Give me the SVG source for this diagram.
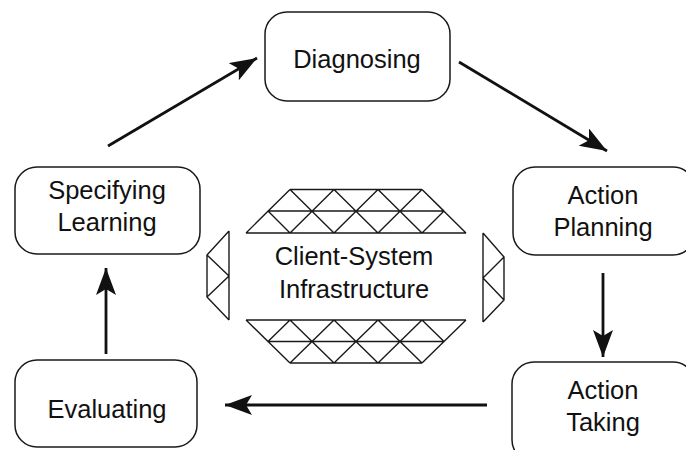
<svg xmlns="http://www.w3.org/2000/svg" width="686" height="450" viewBox="0 0 686 450">
  <style>
    .box { fill: #ffffff; stroke: #1a1a1a; stroke-width: 1.5; }
    .lbl { font-family: "Liberation Sans", Arial, sans-serif; font-size: 25.5px; fill: #111111; text-anchor: middle; }
    .conn { stroke: #111111; stroke-width: 2.8; fill: none; marker-end: url(#arrow); }
    .lat { stroke: #1a1a1a; stroke-width: 1.4; fill: none; stroke-linejoin: round; }
  </style>
  <defs>
    <marker id="arrow" markerUnits="userSpaceOnUse" markerWidth="30" markerHeight="24" refX="27" refY="10" orient="auto">
      <path d="M0,0 L27,10 L0,20 L6,10 z" fill="#111111"/>
    </marker>
  </defs>
  <rect width="686" height="450" fill="#ffffff"/>

  <g id="connectors">
    <line class="conn" x1="108" y1="146" x2="257" y2="58"/>
    <line class="conn" x1="459" y1="62" x2="607" y2="151"/>
    <line class="conn" x1="603" y1="273" x2="603" y2="357"/>
    <line class="conn" x1="487" y1="405" x2="225" y2="405"/>
    <line class="conn" x1="106" y1="354" x2="106" y2="268"/>
  </g>

  <g id="diagnosing">
    <rect class="box" x="265" y="12" width="185" height="89" rx="22"/>
    <text class="lbl" x="357" y="68">Diagnosing</text>
  </g>

  <g id="action-planning">
    <rect class="box" x="513" y="167" width="182" height="88" rx="22"/>
    <text class="lbl" x="603" y="204">Action</text>
    <text class="lbl" x="603" y="236">Planning</text>
  </g>

  <g id="action-taking">
    <rect class="box" x="512" y="362" width="183" height="100" rx="22"/>
    <text class="lbl" x="603" y="399">Action</text>
    <text class="lbl" x="603" y="431">Taking</text>
  </g>

  <g id="evaluating">
    <rect class="box" x="15" y="360" width="182" height="87" rx="22"/>
    <text class="lbl" x="107" y="418">Evaluating</text>
  </g>

  <g id="specifying-learning">
    <rect class="box" x="15" y="167" width="185" height="87" rx="22"/>
    <text class="lbl" x="107" y="199">Specifying</text>
    <text class="lbl" x="107" y="231">Learning</text>
  </g>

  <g id="client-system-infrastructure">
    <path class="lat" d="M290,189.5 H422 M268,211 H444 M246,233 H466
      M290,189.5 L246,233 M422,189.5 L466,233
      M290,189.5 L334,233 M334,189.5 L378,233 M378,189.5 L422,233 M422,189.5 L444,211
      M268,211 L290,233
      M334,189.5 L290,233 M378,189.5 L334,233 M422,189.5 L378,233
      M444,211 L422,233"/>
    <path class="lat" d="M246,320 H466 M268,341.5 H444 M290,363 H422
      M246,320 L290,363 M466,320 L422,363
      M290,320 L334,363 M334,320 L378,363 M378,320 L422,363 M422,320 L444,341.5
      M268,341.5 L246,320
      M290,320 L268,341.5 M334,320 L290,363 M378,320 L334,363 M422,320 L378,363"/>
    <path class="lat" d="M229,231 V320 M207,255 V297 M229,231 L207,255 L229,276 L207,297 L229,320"/>
    <path class="lat" d="M483,233 V322 M504,257 V300 M483,233 L504,257 L483,278 L504,300 L483,322"/>
    <text class="lbl" x="354" y="265">Client-System</text>
    <text class="lbl" x="354" y="298">Infrastructure</text>
  </g>
</svg>
